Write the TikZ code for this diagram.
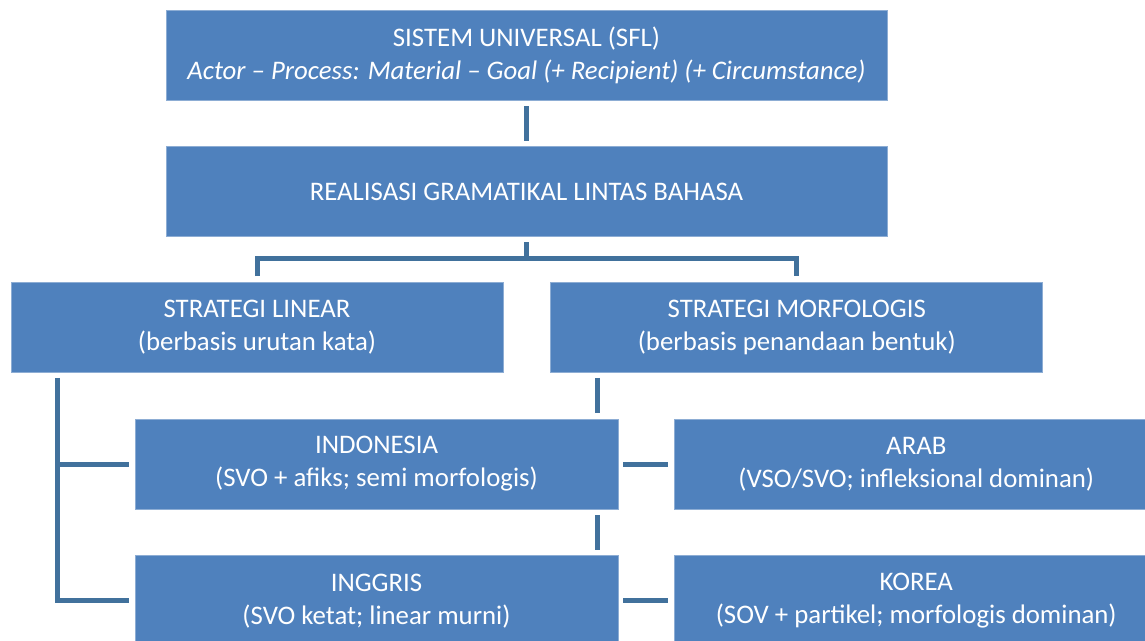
\documentclass[tikz,border=0pt]{standalone}
\usepackage{fontspec}
\setmainfont{Carlito}
\usetikzlibrary{positioning}
\definecolor{boxblue}{HTML}{4F81BD}
\definecolor{linkblue}{HTML}{41719C}
\tikzset{
  box/.style={
    rectangle,
    fill=boxblue,
    draw=boxblue!65!white,
    line width=0.4pt,
    text=white,
    align=center,
    inner sep=0pt,
    minimum height=45pt,
    font=\fontsize{13.4}{16.5}\selectfont
  },
  topbox/.style={
    box,
    minimum width=360.5pt
  },
  stratbox/.style={
    box,
    minimum width=246pt
  },
  langbox/.style={
    box,
    minimum width=241.5pt
  },
  link/.style={
    draw=linkblue,
    line width=2.5pt
  }
}

\begin{document}
\begin{tikzpicture}[node distance=23pt and 23.5pt]
  \useasboundingbox (0,0) rectangle (572.5pt,-320.5pt);

  \node[topbox] (sfl) at (263.25pt,-27.5pt) {SISTEM UNIVERSAL (SFL)\\\textit{Actor – Process: Material – Goal (+ Recipient) (+ Circumstance)}};
  \node[topbox, below=of sfl] (real) {REALISASI GRAMATIKAL LINTAS BAHASA};

  \node[stratbox] (linear) at (128.5pt,-163.75pt) {STRATEGI LINEAR\\(berbasis urutan kata)};
  \node[stratbox, right=of linear] (morf) {STRATEGI MORFOLOGIS\\(berbasis penandaan bentuk)};

  \node[langbox] (indo) at (188.25pt,-232pt) {INDONESIA\\(SVO + afiks; semi morfologis)};
  \node[langbox, right=28pt of indo] (arab) {ARAB\\(VSO/SVO; infleksional dominan)};
  \node[langbox, below=of indo] (inggris) {INGGRIS\\(SVO ketat; linear murni)};
  \node[langbox, right=28pt of inggris] (korea) {KOREA\\(SOV + partikel; morfologis dominan)};

  % top levels
  \draw[link] ([yshift=-3pt]sfl.south) -- ([yshift=2.5pt]real.north);
  \draw[link] ([yshift=-2.5pt]real.south) -- ++(0,-8pt) coordinate (fork);
  \draw[link] ([yshift=3pt]linear.north) |- (fork) -| ([yshift=3pt]morf.north);

  % linear branch
  \coordinate (trunk) at ([xshift=23.5pt,yshift=-2.5pt]linear.south west);
  \draw[link] (trunk) |- ([xshift=-3pt]inggris.west);
  \draw[link] (trunk |- indo.west) -- ([xshift=-3pt]indo.west);

  % morphological branch
  \coordinate (drop) at ([xshift=23.5pt,yshift=-2.5pt]morf.south west);
  \draw[link] (drop) -- ([yshift=3pt]drop |- indo.north);
  \draw[link] ([yshift=-3pt]drop |- indo.south) -- ([yshift=2.5pt]drop |- inggris.north);
  \draw[link] ([xshift=2.5pt]indo.east) -- ([xshift=-3pt]arab.west);
  \draw[link] ([xshift=2.5pt]inggris.east) -- ([xshift=-3pt]korea.west);
\end{tikzpicture}
\end{document}
